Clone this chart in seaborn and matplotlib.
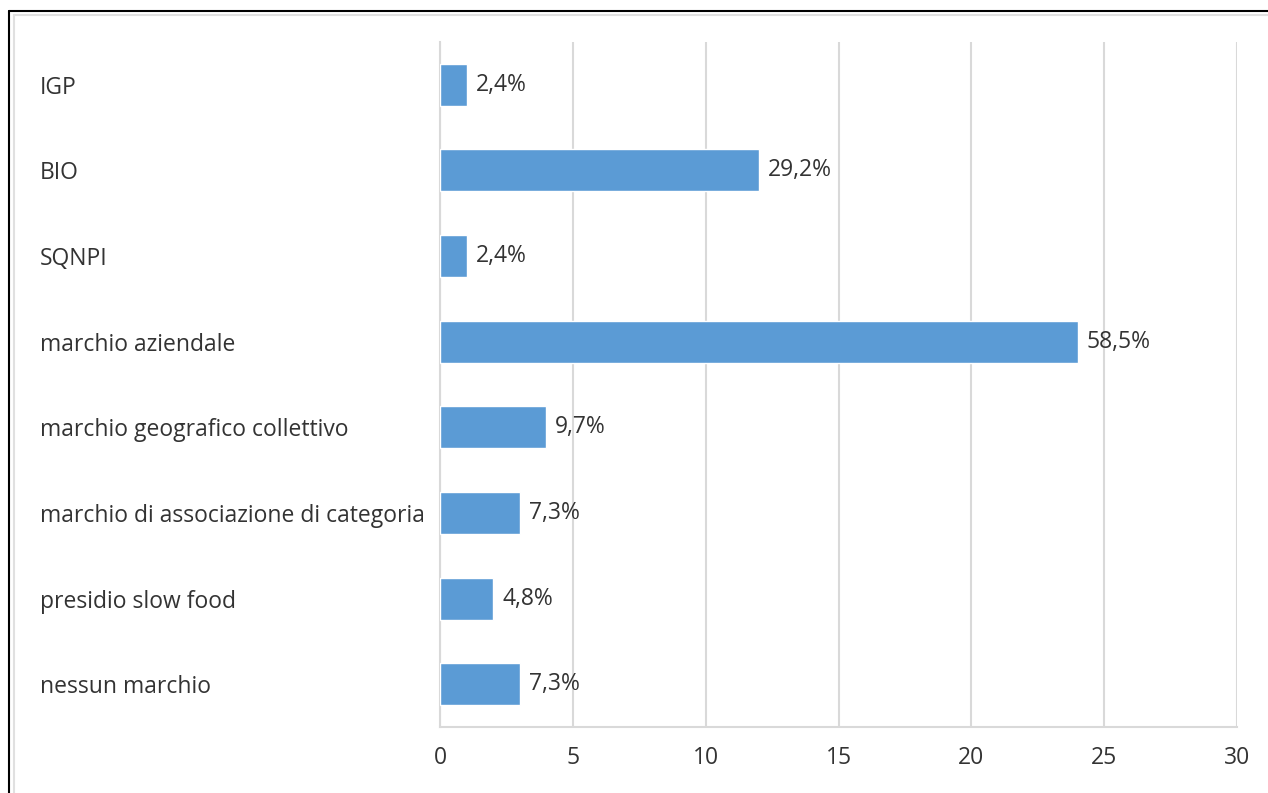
import matplotlib
matplotlib.use("Agg")
import matplotlib.pyplot as plt
import seaborn as sns
import pandas as pd
import numpy as np
from matplotlib.lines import Line2D

categories = ["IGP", "BIO", "SQNPI", "marchio aziendale", "marchio geografico collettivo",
              "marchio di associazione di categoria", "presidio slow food", "nessun marchio"]
values = [1, 12, 1, 24, 4, 3, 2, 3]
labels = ["2,4%", "29,2%", "2,4%", "58,5%", "9,7%", "7,3%", "4,8%", "7,3%"]
xticks = [0, 5, 10, 15, 20, 25, 30]

sns.set_theme(style="white")
plt.rcParams['font.family'] = ['Open Sans', 'DejaVu Sans']

df = pd.DataFrame({"cat": categories, "val": values})

fig = plt.figure(figsize=(12.68, 7.93), dpi=100)
ax = fig.add_axes([440/1268, 1-727/793, (1237-440)/1268, (727-42)/793])

sns.barplot(data=df, x="val", y="cat", orient="h", color="#5B9BD5", saturation=1,
            width=0.49, ax=ax, zorder=3)

txtc = "#333333"
ax.set_xlim(0, 30)
ax.set_ylim(len(categories)-0.5, -0.5)
ax.set_xticks(xticks)
ax.set_xticklabels([str(t) for t in xticks], fontsize=16.5, color=txtc)
ax.set_xlabel("")
ax.set_ylabel("")

gridc = "#d9d9d9"
ax.grid(axis="x", color=gridc, linewidth=1.5, zorder=0)
ax.grid(axis="y", visible=False)
for s in ["top", "right"]:
    ax.spines[s].set_visible(False)
ax.spines["left"].set_color(gridc)
ax.spines["left"].set_linewidth(1.5)
ax.spines["bottom"].set_color(gridc)
ax.spines["bottom"].set_linewidth(1.5)

ax.tick_params(axis="x", which="major", length=7, width=1.5, color=gridc, pad=7)
ax.tick_params(axis="y", which="major", length=0, pad=288)
ax.set_yticks(np.arange(-0.5, len(categories), 1), minor=True)
ax.tick_params(axis="y", which="minor", length=7, width=1.5, color=gridc)
for lab in ax.get_yticklabels():
    lab.set_horizontalalignment("left")
    lab.set_fontsize(16.5)
    lab.set_color(txtc)

for i, (v, t) in enumerate(zip(values, labels)):
    ax.annotate(t, xy=(v, i), xytext=(6.5, 0), textcoords="offset points",
                ha="left", va="center", fontsize=16.5, color=txtc, zorder=4)

# figure frame
fig.add_artist(Line2D([9/1268, 9/1268], [0, 1-11/793], color="black", lw=1.5, transform=fig.transFigure))
fig.add_artist(Line2D([9/1268, 1], [1-11/793, 1-11/793], color="black", lw=1.5, transform=fig.transFigure))
fig.add_artist(Line2D([14/1268, 14/1268], [0, 1-15/793], color="#e0e0e0", lw=1.5, transform=fig.transFigure))
fig.add_artist(Line2D([14/1268, 1], [1-15/793, 1-15/793], color="#e0e0e0", lw=1.5, transform=fig.transFigure))

fig.savefig("out.png", dpi=100)
